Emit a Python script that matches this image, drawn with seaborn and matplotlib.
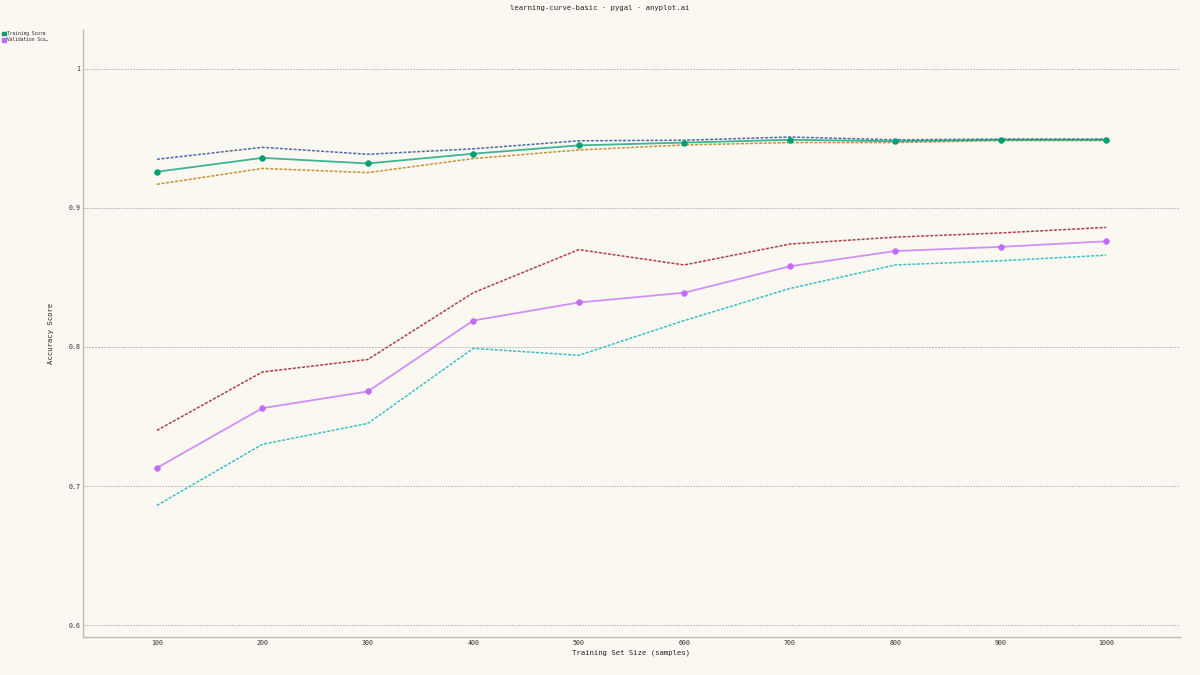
import pandas as pd
import numpy as np
import seaborn as sns
import matplotlib.pyplot as plt
from matplotlib.patches import Patch

# ============================================================
# Data
# ============================================================

train_sizes = [100, 200, 300, 400, 500, 600, 700, 800, 900, 1000]

train_mean = [0.926, 0.936, 0.932, 0.939, 0.945, 0.947, 0.949, 0.948, 0.949, 0.949]
train_std = [0.009, 0.0076, 0.0066, 0.0035, 0.0033, 0.0017, 0.002, 0.001, 0.0005, 0.0005]

val_mean = [0.713, 0.756, 0.768, 0.819, 0.832, 0.839, 0.858, 0.869, 0.872, 0.876]
val_std = [0.027, 0.026, 0.023, 0.020, 0.038, 0.020, 0.016, 0.010, 0.010, 0.010]

y_ticks = [0.6, 0.7, 0.8, 0.9, 1.0]
y_tick_labels = ["0.6", "0.7", "0.8", "0.9", "1"]

df = pd.DataFrame({
    "size": train_sizes,
    "train": train_mean,
    "train_hi": np.array(train_mean) + np.array(train_std),
    "train_lo": np.array(train_mean) - np.array(train_std),
    "val": val_mean,
    "val_hi": np.array(val_mean) + np.array(val_std),
    "val_lo": np.array(val_mean) - np.array(val_std),
})

# ============================================================
# Styling
# ============================================================

bg = "#FAF8F1"
sns.set_style("white")
plt.rcParams['font.family'] = ['DejaVu Sans Mono', 'DejaVu Sans']

fig = plt.figure(figsize=(12, 6.75), dpi=100, facecolor=bg)
ax = fig.add_axes([0.0692, 0.0563, 0.9141, 0.8993])
ax.set_facecolor(bg)

green = "#009E73"
purple = "#C06CF8"
dots = (0, (2, 1))

# ============================================================
# Band lines (mean +/- std)
# ============================================================

sns.lineplot(data=df, x="size", y="train_hi", ax=ax, color="#4F6FA8", lw=1.1, linestyle=dots)
sns.lineplot(data=df, x="size", y="train_lo", ax=ax, color="#C8913A", lw=1.1, linestyle=dots)
sns.lineplot(data=df, x="size", y="val_hi", ax=ax, color="#B0414A", lw=1.1, linestyle=dots)
sns.lineplot(data=df, x="size", y="val_lo", ax=ax, color="#3EC0C8", lw=1.1, linestyle=dots)

# Mean lines with markers
sns.lineplot(data=df, x="size", y="train", ax=ax, color=green, lw=1.3, alpha=0.75)
sns.scatterplot(data=df, x="size", y="train", ax=ax, color=green, s=18, edgecolor=green, zorder=5)
sns.lineplot(data=df, x="size", y="val", ax=ax, color=purple, lw=1.3, alpha=0.75)
sns.scatterplot(data=df, x="size", y="val", ax=ax, color=purple, s=18, edgecolor=purple, zorder=5)

# ============================================================
# Axes
# ============================================================

ax.set_xlim(30, 1070)
ax.set_ylim(0.5914, 1.028)
ax.set_xticks(train_sizes)
ax.set_xticklabels([str(s) for s in train_sizes], fontsize=4.8, color="#333333")
ax.set_yticks(y_ticks)
ax.set_yticklabels(y_tick_labels, fontsize=4.8, color="#333333")
ax.tick_params(axis="both", length=1, width=0.6, color="#BBBBBB", pad=1)
ax.tick_params(axis="x", length=0, pad=2)

for y in y_ticks:
    ax.axhline(y, color="#AAAAAA", lw=0.6, linestyle=(0, (2, 1.5)), zorder=0)

for side in ["top", "right"]:
    ax.spines[side].set_visible(False)
for side in ["left", "bottom"]:
    ax.spines[side].set_color("#BBBBBB")
    ax.spines[side].set_linewidth(1)

ax.set_xlabel("Training Set Size (samples)", fontsize=5.2, color="#222222", labelpad=3)
ax.set_ylabel("Accuracy Score", fontsize=5.2, color="#222222", labelpad=10)

fig.text(0.5, 0.992, "learning-curve-basic · pygal · anyplot.ai",
         ha="center", va="top", fontsize=5.2, color="#222222")

handles = [Patch(facecolor=green, edgecolor=green),
           Patch(facecolor=purple, edgecolor=purple)]
fig.legend(handles, ["Training Score", "Validation Sco…"],
           loc="upper left", bbox_to_anchor=(0.0, 0.957),
           fontsize=3.3, frameon=False, handlelength=0.8, handleheight=0.8,
           handletextpad=0.3, labelspacing=0.35, borderaxespad=0)

fig.savefig("out.png", dpi=100, facecolor=bg)
